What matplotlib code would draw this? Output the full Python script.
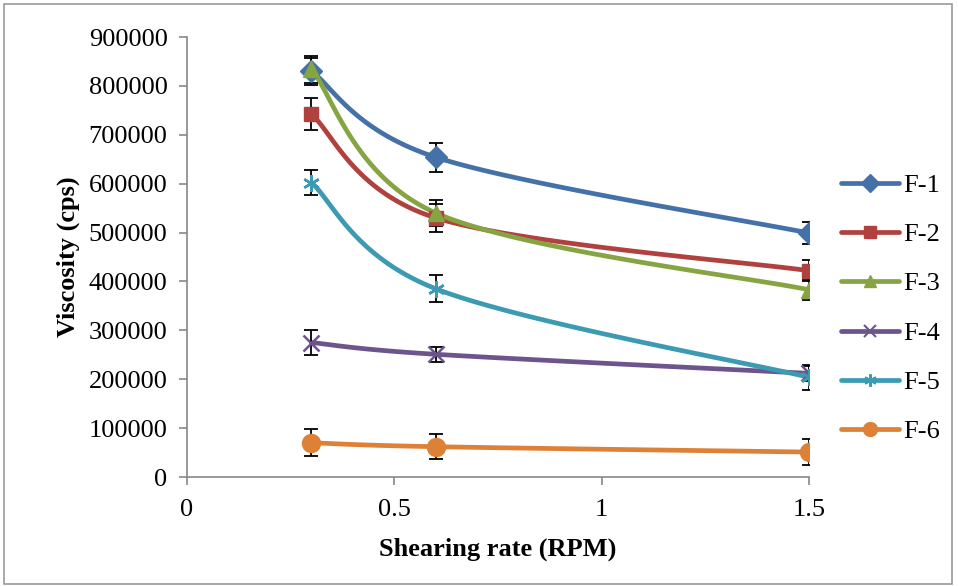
import numpy as np
import matplotlib
matplotlib.use("Agg")
import matplotlib.pyplot as plt
from matplotlib.patches import Rectangle

shear = [0.3, 0.6, 1.5]
names = ["F-1", "F-2", "F-3", "F-4", "F-5", "F-6"]
f1 = [830000, 654000, 499000]
f2 = [742000, 530000, 422000]
f3 = [834000, 540000, 383000]
f4 = [275000, 251000, 212000]
f5 = [602000, 385000, 204000]
f6 = [70000, 62000, 51000]
e1 = [28000, 30000, 23000]
e2 = [33000, 28000, 22000]
e3 = [28000, 26000, 20000]
e4 = [26000, 15000, 15000]
e5 = [26000, 28000, 26000]
e6 = [28000, 25000, 27000]

series = [f1, f2, f3, f4, f5, f6]
errors = [e1, e2, e3, e4, e5, e6]
colors = ["#4472A8", "#B0413E", "#86A542", "#6E548D", "#3C9AB2", "#DD8136"]
markers = ["D", "s", "^", "x", "*", "o"]

plt.rcParams['font.family'] = ['Liberation Serif', 'DejaVu Serif']

W, H = 958, 586
fig = plt.figure(figsize=(W / 100, H / 100), dpi=100)
L, R, T, B = 187, 809, 37, 477
ax = fig.add_axes([L / W, 1 - B / H, (R - L) / W, (B - T) / H])
ax.set_xlim(0, 1.5)
ax.set_ylim(0, 900000)

xs = (R - L) / 1.5
ys = (B - T) / 900000.0


def smooth(x, y, n=60):
    px = np.array(x) * xs
    py = np.array(y) * ys
    P = np.column_stack([px, py])
    out = []
    m = len(P)
    for i in range(m - 1):
        p0 = P[i - 1] if i > 0 else P[i]
        p1 = P[i]
        p2 = P[i + 1]
        p3 = P[i + 2] if i + 2 < m else P[i + 1]
        c1 = p1 + (p2 - p0) / 6.0
        c2 = p2 - (p3 - p1) / 6.0
        t = np.linspace(0, 1, n)[:, None]
        seg = ((1 - t) ** 3) * p1 + 3 * ((1 - t) ** 2) * t * c1 + 3 * (1 - t) * t ** 2 * c2 + t ** 3 * p2
        out.append(seg if i == 0 else seg[1:])
    out = np.vstack(out)
    return out[:, 0] / xs, out[:, 1] / ys


LW = 3.4
handles = []
for vals, err, c, mk, nm in zip(series, errors, colors, markers, names):
    sx, sy = smooth(shear, vals)
    ax.plot(sx, sy, color=c, lw=LW, zorder=2, solid_capstyle='round')
    ax.errorbar(shear, vals, yerr=err, fmt='none', ecolor='black', elinewidth=1.3,
                capsize=5, capthick=1.3, zorder=3)
    ms = {"D": 11, "s": 10, "^": 12, "x": 11, "*": 12, "o": 13}[mk]
    lms = {"D": 9, "s": 8, "^": 9, "x": 9, "*": 9, "o": 10}[mk]
    if mk == "x":
        ax.plot(shear, vals, linestyle='none', marker=mk, ms=ms, mec=c, mew=1.8, zorder=4)
        h, = ax.plot([], [], color=c, lw=LW, marker=mk, ms=lms, mec=c, mew=1.5, solid_capstyle='round')
    elif mk == "*":
        ax.plot(shear, vals, linestyle='none', marker=(6, 2, 0), ms=ms, mec=c, mew=1.8, zorder=4)
        h, = ax.plot([], [], color=c, lw=LW, marker=(6, 2, 0), ms=lms, mec=c, mew=1.5, solid_capstyle='round')
    else:
        ax.plot(shear, vals, linestyle='none', marker=mk, ms=ms, mfc=c, mec=c, zorder=4)
        h, = ax.plot([], [], color=c, lw=LW, marker=mk, ms=lms, mfc=c, mec=c, solid_capstyle='round')
    handles.append(h)

FS = 19
ax.set_xticks([0, 0.5, 1, 1.5])
ax.set_xticklabels(["0", "0.5", "1", "1.5"])
ax.set_yticks(np.arange(0, 900001, 100000))
ax.set_yticklabels([str(v) for v in range(0, 900001, 100000)])
ax.tick_params(axis='both', labelsize=FS, color='#888888', length=6, direction='out', width=1.2)
ax.tick_params(axis='x', pad=10)
ax.tick_params(axis='y', pad=8)
for s in ['top', 'right']:
    ax.spines[s].set_visible(False)
for s in ['left', 'bottom']:
    ax.spines[s].set_color('#888888')
    ax.spines[s].set_linewidth(1.2)

ax.set_xlabel("Shearing rate (RPM)", fontsize=19, fontweight='bold', labelpad=12)
ax.set_ylabel("Viscosity (cps)", fontsize=19, fontweight='bold', labelpad=6)

leg = fig.legend(handles=handles, labels=names, loc='upper left',
                 bbox_to_anchor=(836 / W, 1 - 168 / H), frameon=False,
                 fontsize=FS, handlelength=2.2, labelspacing=0.98, handletextpad=0.15,
                 borderaxespad=0, borderpad=0.2)

fig.patches.append(Rectangle((4 / W, 2 / H), (W - 10) / W, (H - 6) / H, transform=fig.transFigure,
                             fill=False, edgecolor='#999999', lw=1.2))

fig.savefig("out.png", dpi=100)
